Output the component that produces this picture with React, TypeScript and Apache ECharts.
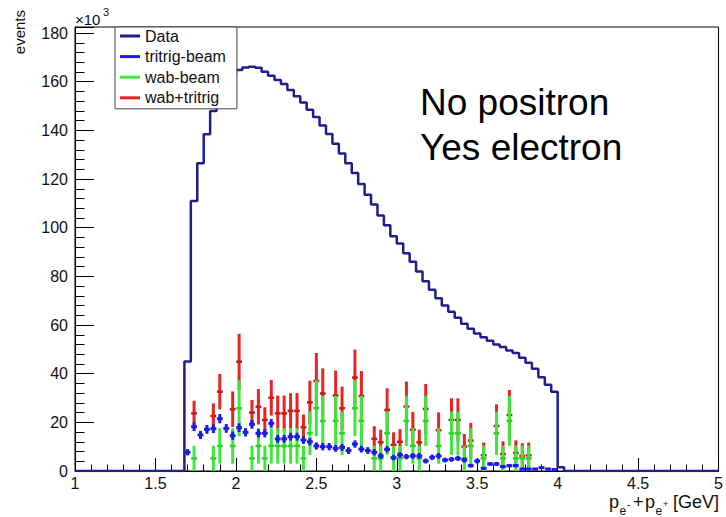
import React, { useEffect, useRef } from "react";
import * as echarts from "echarts";

// ---- binning (GeV) ----
const BIN_WIDTH = 0.04;
const X_MIN = 1;
const X_MAX = 5;
const Y_MAX = 182.5; // in units of 10^3 events
const FIRST_DATA_EDGE = 1.68; // first non-empty bin of the Data histogram
const FIRST_CENTER = 1.70; // bin center of first marker bin

const xTickLabels = ["1", "1.5", "2", "2.5", "3", "3.5", "4", "4.5", "5"];
const yTickLabels = ["0", "20", "40", "60", "80", "100", "120", "140", "160", "180"];

// Data histogram, bins from 1.68 to 4.04 GeV (x10^3 events)
const dataCounts = [
  45, 111, 126.5, 138.4, 148, 154, 158.5, 162, 164.8, 165.9,
  166.2, 165.7, 164.1, 162.5, 160.7, 159.1, 156.6, 154, 151.5, 148.5,
  145.5, 142, 138.5, 134.5, 130.5, 126.5, 122.5, 118, 113.5, 109.5,
  105, 101, 96.5, 93.5, 89.5, 86, 82, 78, 74.5, 71,
  68, 65.5, 63, 60.5, 58.5, 56.5, 55, 53.5, 52, 51,
  49.5, 48.5, 46.5, 44.5, 42, 38.5, 35.5, 32.6, 1.5,
];

// tritrig-beam, bin centers 1.70 .. 3.98
const tritrigBeam = [
  7.7, 18.2, 14.8, 17.1, 17.4, 21.5, 17.5, 14.5, 17.8, 15.9,
  19.2, 15.5, 15.5, 19.6, 13.2, 13.2, 14.1, 14.1, 12.7, 12.0,
  10.3, 10.0, 10.0, 9.3, 9.7, 8.4, 11.1, 9.0, 8.4, 7.7,
  6.2, 8.9, 5.5, 6.6, 5.9, 6.2, 6.2, 4.1, 5.6, 6.2,
  4.5, 4.8, 5.2, 4.5, 2.2, 4.1, 1.1, 2.9, 2.9, 1.8,
  2.2, 2.2, 0.8, 0.8, 0.8, 1.4, 0.8, 0.6,
];
const tritrigErr = [
  1.3, 1.8, 1.7, 1.8, 1.8, 1.9, 1.8, 1.7, 1.8, 1.7,
  1.8, 1.7, 1.7, 1.8, 1.6, 1.6, 1.6, 1.6, 1.6, 1.5,
  1.5, 1.5, 1.5, 1.4, 1.4, 1.4, 1.5, 1.4, 1.4, 1.3,
  1.2, 1.3, 1.1, 1.2, 1.1, 1.2, 1.2, 1.0, 1.1, 1.2,
  1.0, 1.0, 1.1, 1.0, 0.8, 1.0, 0.6, 0.8, 0.8, 0.7,
  0.7, 0.7, 0.5, 0.5, 0.5, 0.6, 0.5, 0.5,
];

// wab-beam, bin centers 1.70 .. 3.98 (0 = empty bin)
const wabBeam = [
  0, 5.2, 0, 0, 5.2, 10.3, 0, 10.3, 25.8, 0,
  5.2, 10.3, 5.2, 10.3, 10.3, 10.3, 10.3, 10.3, 5.2, 15.5,
  25.8, 20.6, 0, 20.6, 15.5, 0, 25.8, 20.6, 0, 5.2,
  5.2, 15.5, 5.2, 5.2, 20.6, 10.3, 5.2, 20.6, 0, 10.3,
  0, 15.5, 15.5, 5.2, 10.3, 0, 5.2, 0, 15.5, 5.2,
  20.6, 5.2, 5.2, 5.2, 0, 0, 0, 0,
];
const wabErr = [
  0, 5.2, 0, 0, 5.2, 7.3, 0, 7.3, 11.5, 0,
  5.2, 7.3, 5.2, 7.3, 7.3, 7.3, 7.3, 7.3, 5.2, 8.9,
  11.5, 10.3, 0, 10.3, 8.9, 0, 11.5, 10.3, 0, 5.2,
  5.2, 8.9, 5.2, 5.2, 10.3, 7.3, 5.2, 10.3, 0, 7.3,
  0, 8.9, 8.9, 5.2, 7.3, 0, 5.2, 0, 8.9, 5.2,
  10.3, 5.2, 5.2, 5.2, 0, 0, 0, 0,
];

// wab+tritrig, bin centers 1.70 .. 3.98 (0 = not drawn)
const wabPlusTritrig = [
  0, 23.7, 0, 0, 22.6, 32.6, 0, 25.4, 44.9, 0,
  24.0, 26.4, 21.0, 30.1, 23.7, 23.7, 24.7, 24.7, 18.0, 28.2,
  37.0, 31.9, 0, 31.0, 25.8, 0, 38.4, 30.8, 0, 13.2,
  11.8, 25.1, 10.7, 12.0, 26.5, 17.0, 11.8, 25.5, 0, 16.8,
  0, 21.0, 21.0, 10.0, 12.5, 0, 6.5, 0, 18.5, 7.0,
  23.0, 7.4, 6.2, 6.5, 0, 0, 0, 0,
];

const FONT = "'Liberation Sans', Arial, Helvetica, sans-serif";
const C_DATA = "#1f1f8c";
const C_TRI = "#1c1ce6";
const C_WAB = "#3de83d";
const C_WAB_MARK = "#2fcf2f";
const C_SUM = "#e62424";
const C_SUM_MARK = "#c81a1a";
const C_TEXT = "#111";

function buildHistogram(): number[][] {
  const nBins = Math.round((X_MAX - X_MIN) / BIN_WIDTH);
  const offset = Math.round((FIRST_DATA_EDGE - X_MIN) / BIN_WIDTH);
  const pts: number[][] = [];
  for (let j = 0; j < nBins; j++) {
    const k = j - offset;
    const v = k >= 0 && k < dataCounts.length ? dataCounts[k] : 0;
    pts.push([+(X_MIN + j * BIN_WIDTH).toFixed(4), v]);
  }
  pts.push([X_MAX, 0]);
  return pts;
}

function buildPoints(vals: number[], errs: number[]): number[][] {
  const out: number[][] = [];
  vals.forEach((v, i) => {
    if (v > 0) out.push([+(FIRST_CENTER + i * BIN_WIDTH).toFixed(4), v, errs[i]]);
  });
  return out;
}

function errSeries(name: string, color: string, markColor: string, pts: number[][], vLW: number, hLW: number, z: number) {
  return {
    type: "custom",
    name,
    z,
    itemStyle: { color },
    data: pts,
    encode: { x: 0, y: 1 },
    clip: true,
    renderItem: (_params: any, api: any) => {
      const x = api.value(0);
      const v = api.value(1);
      const e = api.value(2);
      const c = api.coord([x, v]);
      const lo = api.coord([x, Math.max(0, v - e)]);
      const hi = api.coord([x, v + e]);
      const half = api.size([BIN_WIDTH, 0])[0] / 2 - 0.3;
      return {
        type: "group",
        children: [
          {
            type: "line",
            shape: { x1: c[0], y1: lo[1], x2: c[0], y2: hi[1] },
            style: { stroke: color, lineWidth: vLW },
          },
          {
            type: "line",
            shape: { x1: c[0] - half, y1: c[1], x2: c[0] + half, y2: c[1] },
            style: { stroke: markColor, lineWidth: hLW },
          },
        ],
      };
    },
  };
}

function txt(text: string, x: number, y: number, fontSize: number, align = "left", vAlign = "middle") {
  return {
    type: "text",
    x,
    y,
    style: {
      text,
      fontSize,
      fontFamily: FONT,
      fill: C_TEXT,
      align,
      verticalAlign: vAlign,
    },
  };
}

export default function App() {
  const ref = useRef<HTMLDivElement>(null);

  useEffect(() => {
    document.body.style.margin = "0";
    if (!ref.current) return;
    const chart = echarts.init(ref.current, undefined, { renderer: "svg" });

    const option: any = {
      animation: false,
      backgroundColor: "#ffffff",
      textStyle: { fontFamily: FONT },
      grid: {
        left: 75,
        right: 6,
        top: 27,
        bottom: 46,
        show: true,
        borderColor: "#000",
        borderWidth: 1,
        containLabel: false,
      },
      legend: {
        orient: "vertical",
        left: 115,
        top: 27,
        padding: [1, 11, 3, 5],
        itemGap: 4.6,
        itemWidth: 20,
        itemHeight: 3,
        icon: "rect",
        backgroundColor: "#ffffff",
        borderColor: "#444",
        borderWidth: 1,
        textStyle: { fontSize: 16, color: C_TEXT, fontFamily: FONT },
        data: [
          { name: "Data", itemStyle: { color: C_DATA } },
          { name: "tritrig-beam", itemStyle: { color: C_TRI } },
          { name: "wab-beam", itemStyle: { color: C_WAB } },
          { name: "wab+tritrig", itemStyle: { color: C_SUM } },
        ],
        selectedMode: false,
        z: 10,
      },
      xAxis: {
        type: "value",
        min: X_MIN,
        max: X_MAX,
        interval: 0.5,
        axisLine: { show: true, onZero: false, lineStyle: { color: "#000", width: 1 } },
        axisTick: { show: true, inside: true, length: 13, lineStyle: { color: "#000", width: 1 } },
        minorTick: { show: true, splitNumber: 5, length: 6.5, lineStyle: { color: "#000", width: 1 } },
        splitLine: { show: false },
        axisLabel: {
          margin: 4,
          fontSize: 16,
          color: C_TEXT,
          fontFamily: FONT,
          formatter: (v: number) => xTickLabels[Math.round((v - X_MIN) / 0.5)] ?? "",
        },
      },
      yAxis: {
        type: "value",
        min: 0,
        max: Y_MAX,
        interval: 20,
        name: "events",
        nameLocation: "end",
        nameRotate: 90,
        nameGap: 17,
        nameTextStyle: {
          fontSize: 15,
          fontFamily: FONT,
          color: C_TEXT,
          align: "right",
          verticalAlign: "bottom",
          padding: [0, 0, 48, 0],
        },
        axisLine: { show: true, lineStyle: { color: "#000", width: 1 } },
        axisTick: { show: true, inside: true, length: 19, lineStyle: { color: "#000", width: 1 } },
        minorTick: { show: true, splitNumber: 5, length: 9.5, lineStyle: { color: "#000", width: 1 } },
        splitLine: { show: false },
        axisLabel: {
          margin: 7,
          fontSize: 16,
          color: C_TEXT,
          fontFamily: FONT,
          formatter: (v: number) => yTickLabels[Math.round(v / 20)] ?? "",
        },
      },
      graphic: [
        txt("×10", 75, 19, 15),
        txt("3", 103, 12, 11),
        // x-axis title: p_{e^-} + p_{e^+} [GeV]
        txt("p", 609, 502, 18),
        txt("e", 619.5, 511, 12),
        txt("-", 627, 504, 10),
        txt("+", 633, 502, 18),
        txt("p", 645, 502, 18),
        txt("e", 655.5, 511, 12),
        txt("+", 663, 504, 9),
        txt("[GeV]", 719, 502, 18, "right"),
        {
          type: "text",
          x: 420,
          y: 80,
          style: {
            text: "No positron\nYes electron",
            fontSize: 37,
            lineHeight: 45,
            fontFamily: FONT,
            fill: "#000",
            align: "left",
            verticalAlign: "top",
          },
        },
      ],
      series: [
        {
          type: "line",
          name: "Data",
          step: "end",
          data: buildHistogram(),
          symbol: "none",
          lineStyle: { color: C_DATA, width: 2.5 },
          itemStyle: { color: C_DATA },
          z: 2,
        },
        errSeries("wab+tritrig", C_SUM, C_SUM_MARK, buildPoints(wabPlusTritrig, wabErr), 3, 2.5, 3),
        errSeries("wab-beam", C_WAB, C_WAB_MARK, buildPoints(wabBeam, wabErr), 3, 2.5, 4),
        errSeries("tritrig-beam", C_TRI, C_TRI, buildPoints(tritrigBeam, tritrigErr), 3, 3, 5),
      ],
    };

    chart.setOption(option);
    return () => chart.dispose();
  }, []);

  return <div ref={ref} style={{ width: 726, height: 517 }} />;
}
